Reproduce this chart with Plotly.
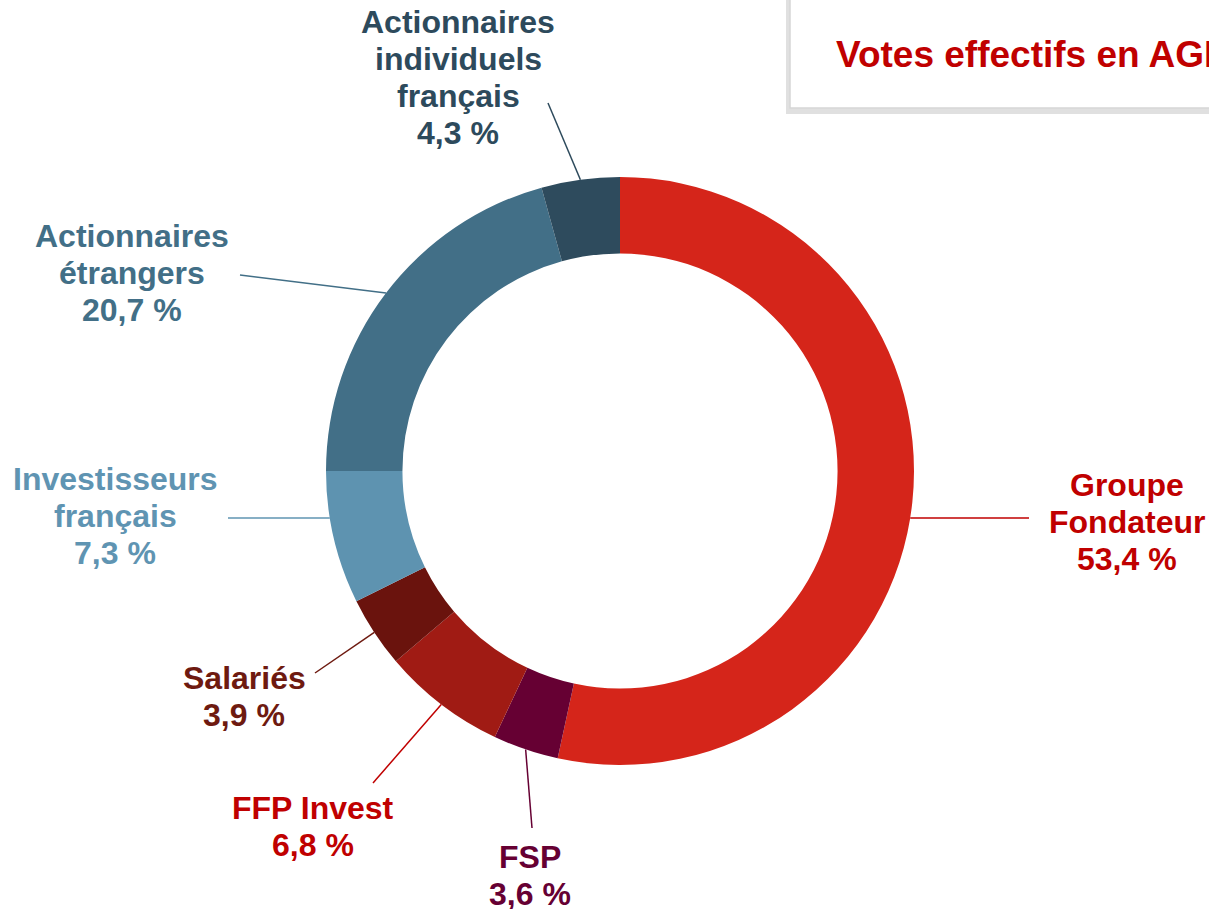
import math
import plotly.graph_objects as go

# Données
categories = ["Groupe Fondateur", "FSP", "FFP Invest", "Salariés",
              "Investisseurs français", "Actionnaires étrangers",
              "Actionnaires individuels français"]
label_lines = [["Groupe", "Fondateur"], ["FSP"], ["FFP Invest"], ["Salariés"],
               ["Investisseurs", "français"], ["Actionnaires", "étrangers"],
               ["Actionnaires", "individuels", "français"]]
values = [53.4, 3.6, 6.8, 3.9, 7.3, 20.7, 4.3]
title_text = "Votes effectifs en AGE"

slice_colors = ["#D5251A", "#660033", "#A01B14", "#6A130D", "#5E93B0", "#426F87", "#2E4B5D"]
text_colors = ["#C00000", "#660033", "#C00000", "#6E1A10", "#5F94B2", "#426F87", "#2D4A5C"]

# mise en page (pixels)
W, H = 1209, 909
cx, cy, R = 620, 471, 294
hole = 0.74
font_size = 32
line_gap = 37
# centre x du texte, y de la première ligne, extrémité du trait, trait horizontal ?
label_pos = [(1127, 485, 1029, 518, True), (530, 857, 532, 828, False),
             (313, 808, 373, 783, False), (244, 678, 315, 673, False),
             (115, 479, 228, 518, True), (132, 236, 240, 275, False),
             (458, 22, 548, 103, False)]


def px(x):
    return x / W


def py(y):
    return 1 - y / H


fig = go.Figure(go.Pie(
    labels=categories, values=values, sort=False, direction="clockwise",
    rotation=0, hole=hole, textinfo="none", hoverinfo="skip",
    marker=dict(colors=slice_colors, line=dict(width=0)),
    domain=dict(x=[px(cx - R), px(cx + R)], y=[py(cy + R), py(cy - R)]),
))

shapes = []
annotations = []
total = sum(values)
cum = 0
for i, v in enumerate(values):
    mid = (cum + v / 2) / total * 2 * math.pi
    cum += v
    tx, ty, ex, ey, horiz = label_pos[i]
    if horiz:
        # le trait part du bord du cercle à la hauteur du libellé
        side = 1 if math.sin(mid) > 0 else -1
        sx = cx + side * math.sqrt(R ** 2 - (ey - cy) ** 2)
        sy = ey
    else:
        sx = cx + R * math.sin(mid)
        sy = cy - R * math.cos(mid)
    shapes.append(dict(type="line", xref="paper", yref="paper",
                       x0=px(sx), y0=py(sy), x1=px(ex), y1=py(ey),
                       line=dict(color=text_colors[i], width=1.5), layer="above"))
    lines = label_lines[i] + [f"{v:.1f}".replace(".", ",") + " %"]
    for j, t in enumerate(lines):
        annotations.append(dict(
            text=t, xref="paper", yref="paper", x=px(tx), y=py(ty + j * line_gap),
            xanchor="center", yanchor="middle", showarrow=False,
            font=dict(family="Liberation Sans", size=font_size, color=text_colors[i],
                      weight="bold")))

# encadré du titre
shapes.append(dict(type="rect", xref="paper", yref="paper",
                   x0=px(786), x1=px(1240), y0=py(-20), y1=py(114),
                   fillcolor="rgba(0,0,0,0.12)", line=dict(width=0)))
shapes.append(dict(type="rect", xref="paper", yref="paper",
                   x0=px(790), x1=px(1240), y0=py(-20), y1=py(108),
                   fillcolor="white", line=dict(color="#D6D6D6", width=1.5)))
annotations.append(dict(
    text=title_text, xref="paper", yref="paper", x=px(834), y=py(54),
    xanchor="left", yanchor="middle", showarrow=False,
    font=dict(family="Liberation Sans", size=37, color="#C00000", weight="bold")))

fig.update_layout(
    width=W, height=H, margin=dict(l=0, r=0, t=0, b=0),
    paper_bgcolor="white", plot_bgcolor="white", showlegend=False,
    shapes=shapes, annotations=annotations,
)

# pas de marge de page autour du graphique
fig.write_html("out.html", config={"displayModeBar": False},
               post_script="document.body.style.margin='0';document.body.style.overflow='hidden';")
